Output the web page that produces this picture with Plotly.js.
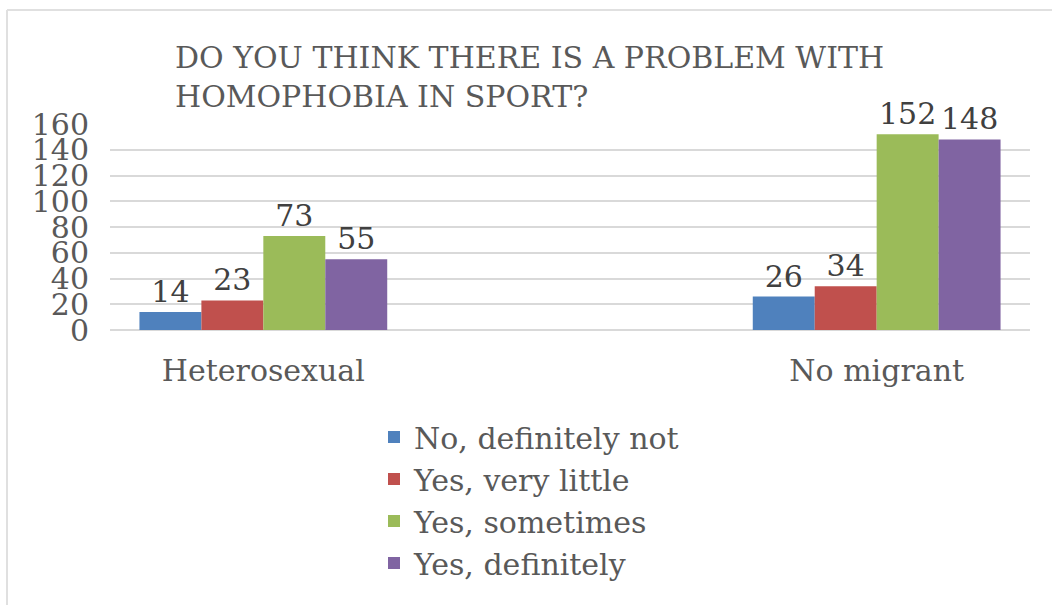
<!DOCTYPE html>
<html>
<head>
<meta charset="utf-8">
<script src="https://cdn.plot.ly/plotly-3.0.1.min.js"></script>
<style>
html,body{margin:0;padding:0;background:#fff;}
#chart{width:1052px;height:605px;}
</style>
</head>
<body>
<div id="chart"></div>
<script>
var categories = ["Heterosexual", "No migrant"];
var seriesNames = ["No, definitely not", "Yes, very little", "Yes, sometimes", "Yes, definitely"];
var noDefinitelyNot = [14, 26];
var yesVeryLittle = [23, 34];
var yesSometimes = [73, 152];
var yesDefinitely = [55, 148];
var seriesColors = ["#4F81BD", "#C0504D", "#9BBB59", "#8064A2"];
var yTicks = [0, 20, 40, 60, 80, 100, 120, 140, 160];

var FONT = "DejaVu Serif";
var seriesValues = [noDefinitelyNot, yesVeryLittle, yesSometimes, yesDefinitely];

var traces = seriesValues.map(function (vals, i) {
  return {
    type: "bar",
    name: seriesNames[i],
    x: categories,
    y: vals,
    text: vals.map(String),
    textposition: "outside",
    constraintext: "none",
    cliponaxis: false,
    textfont: {family: FONT, size: 30, color: "#404040"},
    marker: {color: seriesColors[i], line: {width: 0}},
    hoverinfo: "none"
  };
});

var L = 110, R = 1030, T = 124, B = 330;
function px2x(p) { return (p - L) / (R - L); }
function px2y(p) { return (B - p) / (B - T); }

var layout = {
  width: 1052,
  height: 605,
  paper_bgcolor: "#ffffff",
  plot_bgcolor: "#ffffff",
  margin: {l: L, r: 1052 - R, t: T, b: 605 - B, pad: 0, autoexpand: false},
  barmode: "group",
  bargap: 0.596,
  bargroupgap: 0,
  showlegend: true,
  title: {
    text: "DO YOU THINK THERE IS A PROBLEM WITH<br>HOMOPHOBIA IN SPORT?",
    xref: "container", yref: "container",
    x: 175 / 1052, xanchor: "left",
    y: 1 - 68 / 605, yanchor: "top",
    font: {family: FONT, size: 30, color: "#595959"}
  },
  xaxis: {
    type: "category",
    range: [-0.25, 1.25],
    automargin: false,
    showgrid: false,
    showline: false,
    zeroline: false,
    ticks: "outside",
    ticklen: 14,
    tickcolor: "rgba(0,0,0,0)",
    tickfont: {family: FONT, size: 30, color: "#595959"}
  },
  yaxis: {
    range: [0, 160],
    automargin: false,
    tickvals: yTicks,
    ticktext: yTicks.map(String),
    showgrid: true,
    gridcolor: "#d9d9d9",
    gridwidth: 2,
    zeroline: true,
    zerolinecolor: "#d9d9d9",
    zerolinewidth: 2,
    showline: false,
    ticks: "outside",
    ticklen: 14,
    tickcolor: "rgba(0,0,0,0)",
    tickfont: {family: FONT, size: 30, color: "#595959"}
  },
  legend: {
    orientation: "v",
    xref: "paper", yref: "paper",
    x: px2x(374), xanchor: "left",
    y: px2y(411), yanchor: "top",
    font: {family: FONT, size: 30, color: "#595959"},
    bgcolor: "rgba(0,0,0,0)",
    traceorder: "normal"
  },
  shapes: [
    {type: "line", xref: "paper", yref: "paper",
     x0: px2x(7), x1: px2x(1052), y0: px2y(10), y1: px2y(10),
     line: {color: "#e0e0e0", width: 2}},
    {type: "line", xref: "paper", yref: "paper",
     x0: px2x(7), x1: px2x(7), y0: px2y(10), y1: px2y(605),
     line: {color: "#e0e0e0", width: 2}}
  ]
};

Plotly.newPlot("chart", traces, layout, {staticPlot: true, displayModeBar: false});
</script>
</body>
</html>
